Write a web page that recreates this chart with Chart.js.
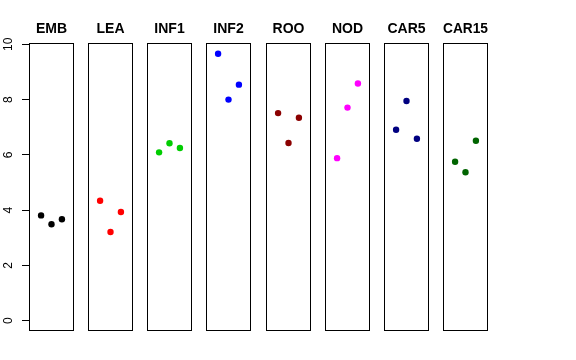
<!DOCTYPE html>
<html>
<head>
<meta charset="utf-8">
<script src="https://cdn.jsdelivr.net/npm/chart.js@4"></script>
<style>
  body { margin: 0; background: #fff; }
  #wrap { position: relative; width: 576px; height: 360px; overflow: hidden; }
  #wrap canvas { position: absolute; top: 0; }
</style>
</head>
<body>
<div id="wrap"></div>
<script>
// panel names + colours, one panel per group
const groups = ["EMB", "LEA", "INF1", "INF2", "ROO", "NOD", "CAR5", "CAR15"];
const groupColors = ["#000000", "#FF0000", "#00CD00", "#0000FF", "#8B0000", "#FF00FF", "#000080", "#006400"];

// three replicates per panel, plotted at x = 1, 2, 3
const replicate = [1, 2, 3];
const embValues = [3.81, 3.49, 3.67];
const leaValues = [4.34, 3.21, 3.93];
const inf1Values = [6.09, 6.42, 6.25];
const inf2Values = [9.66, 8.00, 8.54];
const rooValues = [7.51, 6.43, 7.34];
const nodValues = [5.88, 7.71, 8.58];
const car5Values = [6.91, 7.95, 6.58];
const car15Values = [5.75, 5.37, 6.51];
const panelValues = [embValues, leaValues, inf1Values, inf2Values, rooValues, nodValues, car5Values, car15Values];

const yTicks = [0, 2, 4, 6, 8, 10];

const FONT = "'Liberation Sans', Arial, Helvetica, sans-serif";
const BOX_W = 45;
const SIDE = 8;      // spare room each side of a panel for the title
const AXIS_W = 29;   // y axis width on the first panel

// box around each panel (R's bty="o")
const boxPlugin = {
  id: "panelBox",
  beforeDatasetsDraw(chart) {
    const { ctx, chartArea: a } = chart;
    ctx.save();
    ctx.strokeStyle = "#000";
    ctx.lineWidth = 1;
    ctx.strokeRect(Math.round(a.left) + 0.5, Math.round(a.top) + 0.5,
      Math.round(a.right - a.left) - 1, Math.round(a.bottom - a.top) - 1);
    ctx.restore();
  },
};

// vertical (rotated) tick labels like R's default las=0
const yLabelPlugin = {
  id: "yLabels",
  afterDraw(chart) {
    const s = chart.scales.y;
    if (!s.options.display) return;
    const ctx = chart.ctx;
    ctx.save();
    ctx.fillStyle = "#000";
    ctx.font = "12px " + FONT;
    ctx.textAlign = "center";
    ctx.textBaseline = "alphabetic";
    yTicks.forEach((v) => {
      ctx.save();
      ctx.translate(11.7, s.getPixelForValue(v));
      ctx.rotate(-Math.PI / 2);
      ctx.fillText(String(v), 0, 0);
      ctx.restore();
    });
    ctx.restore();
  },
};

const wrap = document.getElementById("wrap");

groups.forEach((name, i) => {
  const first = i === 0;
  const boxLeft = Math.round(29 + 59.15 * i);
  const canvasLeft = first ? 0 : boxLeft - SIDE;
  const width = first ? AXIS_W + BOX_W + SIDE : BOX_W + 2 * SIDE;

  const canvas = document.createElement("canvas");
  canvas.width = width;
  canvas.height = 360;
  canvas.style.left = canvasLeft + "px";
  canvas.style.width = width + "px";
  canvas.style.height = "360px";
  wrap.appendChild(canvas);

  const yScale = {
    min: -0.373,
    max: 10.047,
    display: first,
    afterBuildTicks: (s) => { s.ticks = yTicks.map((v) => ({ value: v })); },
    ticks: { display: false },
    grid: { drawOnChartArea: false, drawTicks: true, tickLength: 7, color: "#000" },
    border: { display: false },
  };
  if (first) yScale.afterFit = (s) => { s.width = AXIS_W; };

  new Chart(canvas, {
    type: "scatter",
    data: {
      datasets: [{
        data: replicate.map((x, k) => ({ x, y: panelValues[i][k] })),
        backgroundColor: groupColors[i],
        borderWidth: 0,
        pointRadius: 3.2,
      }],
    },
    options: {
      responsive: false,
      animation: false,
      layout: { padding: { left: first ? 0 : SIDE, right: SIDE, top: 0, bottom: 29 } },
      plugins: {
        legend: { display: false },
        tooltip: { enabled: false },
        title: {
          display: true,
          text: name,
          fullSize: false,
          color: "#000",
          font: { family: FONT, size: 14, weight: "bold", lineHeight: 1 },
          padding: { top: 22, bottom: 7 },
        },
      },
      scales: {
        x: { type: "linear", min: -0.16, max: 4.16, display: false },
        y: yScale,
      },
    },
    plugins: [boxPlugin, yLabelPlugin],
  });
});
</script>
</body>
</html>
